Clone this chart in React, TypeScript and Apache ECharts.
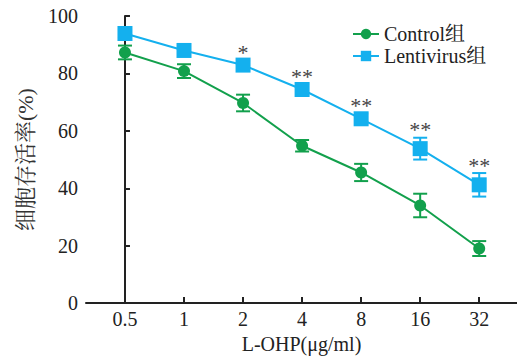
import React, { useEffect, useRef } from "react";
import * as echarts from "echarts";

const categories = ["0.5", "1", "2", "4", "8", "16", "32"];
const controlMean = [87.3, 80.8, 69.7, 54.8, 45.5, 34.0, 19.0];
const controlErr = [2.4, 2.4, 2.9, 2.0, 3.0, 4.1, 2.6];
const lentiMean = [93.9, 88.0, 82.9, 74.4, 64.2, 53.8, 41.2];
const lentiErr = [1.5, 1.5, 1.5, 1.8, 1.8, 3.8, 4.1];
const sigLabels = ["", "", "*", "**", "**", "**", "**"];
const yTicks = [0, 20, 40, 60, 80, 100];

const GREEN = "#12a04c";
const BLUE = "#14b0ee";
const FONT = "'Liberation Serif', 'Times New Roman', 'Noto Serif CJK SC', 'Noto Sans CJK SC', serif";

function errorBarSeries(name: string, means: number[], errs: number[], color: string) {
  return {
    type: "custom",
    name: name + "_err",
    silent: true,
    z: 3,
    data: means.map((m, i) => [i, m - errs[i], m + errs[i]]),
    renderItem: (params: any, api: any) => {
      const x = api.value(0);
      const lo = api.coord([x, api.value(1)]);
      const hi = api.coord([x, api.value(2)]);
      const w = 7;
      const style = { stroke: color, lineWidth: 2 };
      return {
        type: "group",
        children: [
          { type: "line", shape: { x1: lo[0], y1: lo[1], x2: hi[0], y2: hi[1] }, style },
          { type: "line", shape: { x1: lo[0] - w, y1: lo[1], x2: lo[0] + w, y2: lo[1] }, style },
          { type: "line", shape: { x1: hi[0] - w, y1: hi[1], x2: hi[0] + w, y2: hi[1] }, style },
        ],
      };
    },
  };
}

export default function App() {
  const ref = useRef<HTMLDivElement>(null);
  useEffect(() => {
    if (!ref.current) return;
    const chart = echarts.init(ref.current, null, { renderer: "svg" });
    const idx = categories.map((_, i) => i);
    chart.setOption({
      animation: false,
      backgroundColor: "#fff",
      textStyle: { fontFamily: FONT },
      grid: { left: 86, right: 0, top: 16, bottom: 54, containLabel: false },
      legend: {
        orient: "vertical",
        left: 347,
        top: 19,
        itemWidth: 26,
        itemHeight: 13,
        itemGap: 2,
        textStyle: { fontFamily: FONT, fontSize: 20, lineHeight: 20, color: "#222" },
        data: ["Control组", "Lentivirus组"],
      },
      xAxis: {
        type: "value",
        min: -0.66,
        max: 6.64,
        name: "L-OHP(μg/ml)",
        nameLocation: "middle",
        nameGap: 30,
        nameTextStyle: { fontFamily: FONT, fontSize: 20, color: "#222" },
        axisLine: { lineStyle: { color: "#222", width: 2 } },
        axisTick: { inside: true, length: 6, customValues: idx, lineStyle: { color: "#222", width: 2 } },
        axisLabel: {
          customValues: idx,
          formatter: (v: number) => categories[Math.round(v)] ?? "",
          fontFamily: FONT,
          fontSize: 20,
          color: "#222",
          margin: 6,
        },
        splitLine: { show: false },
      },
      yAxis: {
        type: "value",
        min: 0,
        max: 100,
        interval: 20,
        name: "细胞存活率(%)",
        nameLocation: "middle",
        nameGap: 50,
        nameTextStyle: { fontFamily: FONT, fontSize: 22, color: "#333" },
        axisLine: { show: true, lineStyle: { color: "#222", width: 2 } },
        axisTick: { show: true, inside: true, length: 5, customValues: yTicks, lineStyle: { color: "#222", width: 2 } },
        axisLabel: { customValues: yTicks, fontFamily: FONT, fontSize: 20, color: "#222", margin: 8 },
        splitLine: { show: false },
      },
      series: [
        {
          type: "line",
          name: "Control组",
          data: controlMean.map((v, i) => [i, v]),
          symbol: "circle",
          symbolSize: 12,
          itemStyle: { color: GREEN },
          lineStyle: { color: GREEN, width: 2 },
          z: 4,
        },
        {
          type: "line",
          name: "Lentivirus组",
          data: lentiMean.map((v, i) => [i, v]),
          symbol: "rect",
          symbolSize: 15,
          itemStyle: { color: BLUE },
          lineStyle: { color: BLUE, width: 2 },
          z: 4,
        },
        errorBarSeries("Control组", controlMean, controlErr, GREEN),
        errorBarSeries("Lentivirus组", lentiMean, lentiErr, BLUE),
        {
          type: "custom",
          name: "sig",
          silent: true,
          z: 5,
          data: lentiMean.map((m, i) => [i, m + lentiErr[i], sigLabels[i]]),
          renderItem: (params: any, api: any) => {
            const i = params.dataIndex;
            const p = api.coord([api.value(0), api.value(1)]);
            return {
              type: "text",
              x: p[0],
              y: p[1] - 8,
              style: {
                text: sigLabels[i],
                fill: "#444",
                font: "22px " + FONT,
                align: "center",
                verticalAlign: "middle",
              },
            };
          },
        },
      ],
    });
    return () => chart.dispose();
  }, []);
  return <div ref={ref} style={{ position: "fixed", left: 0, top: 0, width: 517, height: 359 }} />;
}
